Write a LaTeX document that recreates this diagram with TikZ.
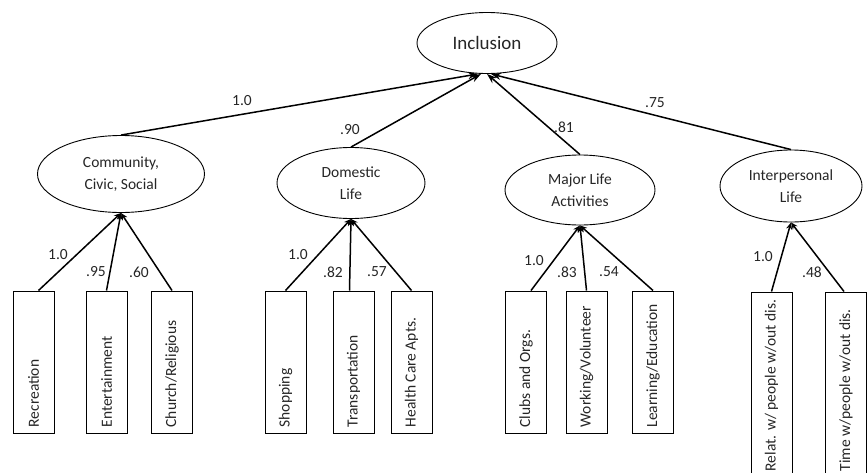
\documentclass[tikz,border=0pt]{standalone}
\usepackage{fontspec}
\setmainfont{Carlito}
\usetikzlibrary{shapes.geometric,arrows.meta}
\tikzset{
  factor/.style={draw, ellipse, line width=0.9pt, inner sep=0pt, align=center,
    text=black!85, font=\fontsize{15.5}{22}\selectfont},
  indbox/.style={draw, rectangle, line width=1pt, minimum width=41pt,
    minimum height=142pt, inner sep=0pt},
  indtext/.style={rotate=90, anchor=west, inner sep=0pt, text=black!85,
    font=\fontsize{15.5}{18}\selectfont},
  weight/.style={inner sep=0pt, text=black!85, font=\fontsize{15.5}{18}\selectfont},
  load/.style={line width=1.5pt, -{Stealth[length=7pt,width=6pt]}},
  toplink/.style={line width=1.5pt, -{Stealth[length=10pt,width=7pt]}},
}
\begin{document}
\begin{tikzpicture}[x=1pt,y=-1pt]
      \useasboundingbox (0,0) rectangle (868,472);
      \clip (0,0) rectangle (868,472);
      % factors
      \draw
        (487,43) node[factor, minimum width=140pt, minimum height=61pt,
          font=\fontsize{19}{23}\selectfont] (incl){Inclusion}
        (121,174) node[factor, minimum width=167pt, minimum height=77pt] (comm){Community,\\Civic, Social}
        (351,183) node[factor, minimum width=148pt, minimum height=71pt] (dom){Domestic\\Life}
        (580,190) node[factor, minimum width=150pt, minimum height=70pt] (maj){Major Life\\Activities}
        (791,186) node[factor, minimum width=142pt, minimum height=72pt] (inter){Interpersonal\\Life};
      % indicators
      \draw
        (33.5,362) node[indbox] (rec){}
        (106.5,362) node[indbox] (ent){}
        (172,362) node[indbox] (chu){}
        (285.5,362) node[indbox] (shop){}
        (353.5,362) node[indbox] (trans){}
        (411.5,362) node[indbox] (hca){}
        (526,362) node[indbox] (club){}
        (586.5,362) node[indbox] (work){}
        (653,362) node[indbox] (learn){}
        (771.5,384.5) node[indbox, minimum height=185pt] (relat){}
        (846,384.5) node[indbox, minimum height=185pt] (time){};
      \node[indtext] at ([yshift=6pt]rec.south) {Recreation};
      \node[indtext] at ([yshift=6pt]ent.south) {Entertainment};
      \node[indtext] at ([yshift=6pt]chu.south) {Church/Religious};
      \node[indtext] at ([yshift=6pt]shop.south) {Shopping};
      \node[indtext] at ([yshift=6pt]trans.south) {Transportation};
      \node[indtext] at ([yshift=6pt]hca.south) {Health Care Apts.};
      \node[indtext] at ([yshift=6pt]club.south) {Clubs and Orgs.};
      \node[indtext] at ([yshift=6pt]work.south) {Working/Volunteer};
      \node[indtext] at ([yshift=6pt]learn.south) {Learning/Education};
      \node[indtext] at ([yshift=6pt]relat.south) {Relat. w/ people w/out dis.};
      \node[indtext] at ([yshift=6pt]time.south) {Time w/people w/out dis.};
      % loadings
      \begin{scope}[toplink]
        \draw (comm.north) to ([xshift=-9pt]incl.south);
        \draw (dom.north) to ([xshift=-6pt]incl.south);
        \draw (maj.north) to ([xshift=0pt]incl.south);
        \draw (inter.north) to ([xshift=4pt]incl.south);
      \end{scope}
      \begin{scope}[load]
        \draw ([xshift=5pt]rec.north) to (comm.south);
        \draw (ent.north) to (comm.south);
        \draw (chu.north) to (comm.south);
        \draw (shop.north) to (dom.south);
        \draw ([xshift=-4pt]trans.north) to (dom.south);
        \draw (hca.north) to (dom.south);
        \draw ([xshift=5pt]club.north) to (maj.south);
        \draw (work.north) to (maj.south);
        \draw (learn.north) to (maj.south);
        \draw (relat.north) to (inter.south);
        \draw ([xshift=-2pt]time.north) to (inter.south);
      \end{scope}
      % weights
      \node[weight] (wcomm) at (242,101) {1.0};
      \node[weight] (wdom) at (350,130) {.90};
      \node[weight] (wmaj) at (564,127) {.81};
      \node[weight] (winter) at (655,103) {.75};
      \node[weight] (wrec) at (58,255) {1.0};
      \node[weight] (went) at (96,272) {.95};
      \node[weight] (wchu) at (139,272) {.60};
      \node[weight] (wshop) at (298,255) {1.0};
      \node[weight] (wtrans) at (333,272) {.82};
      \node[weight] (whca) at (377,272) {.57};
      \node[weight] (wclub) at (534,261) {1.0};
      \node[weight] (wwork) at (567,272) {.83};
      \node[weight] (wlearn) at (609,272) {.54};
      \node[weight] (wrelat) at (763,257) {1.0};
      \node[weight] (wtime) at (812,272) {.48};
    \end{tikzpicture}
\end{document}
